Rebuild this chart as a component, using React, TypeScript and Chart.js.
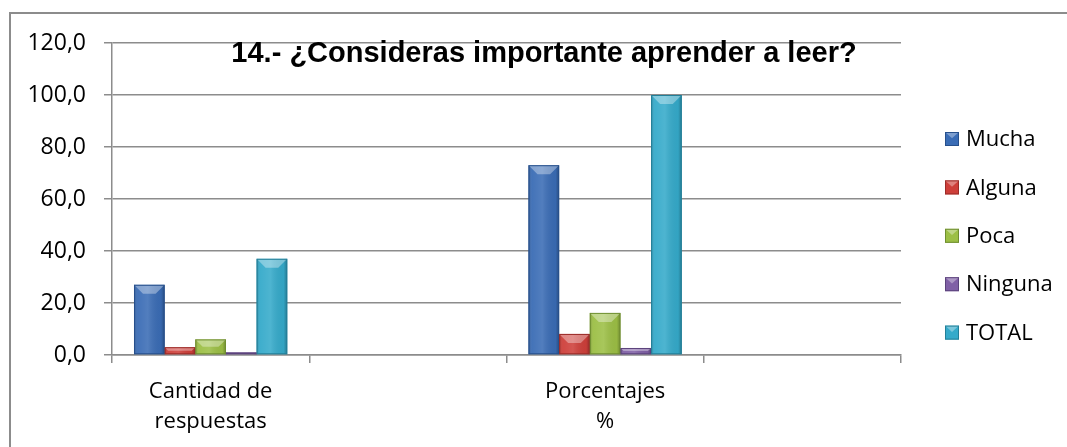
import React, { useEffect, useRef } from "react";
import { Chart, registerables } from "chart.js";

Chart.register(...registerables);

const titleText = "14.- ¿Consideras importante aprender a leer?";
const categories: (string | string[])[] = [["Cantidad de", "respuestas"], "", ["Porcentajes", "%"], ""];
const seriesNames = ["Mucha", "Alguna", "Poca", "Ninguna", "TOTAL"];
const mucha = [27, null, 73.0, null];
const alguna = [3, null, 8.1, null];
const poca = [6, null, 16.2, null];
const ninguna = [1, null, 2.7, null];
const total = [37, null, 100.0, null];
const yTicks = [0, 20, 40, 60, 80, 100, 120];

const seriesValues = [mucha, alguna, poca, ninguna, total];
const fills = ["#3A6CB5", "#CE3F3A", "#9CBF45", "#8060A6", "#35AACA"];
const borders = ["#27508C", "#9B2C29", "#6F8E30", "#5B437C", "#237F98"];

const FONT = "'Open Sans', 'DejaVu Sans', sans-serif";

const framePlugin = {
  id: "frame",
  beforeDraw(chart: any) {
    const ctx = chart.ctx;
    ctx.save();
    ctx.fillStyle = "#ffffff";
    ctx.fillRect(0, 0, chart.width, chart.height);
    ctx.fillStyle = "#8c8c8c";
    ctx.fillRect(9, 12, chart.width - 9, 2);
    ctx.fillRect(9, 12, 2, chart.height - 12);
    ctx.restore();
  },
};

const bevelPlugin = {
  id: "bevel",
  afterDatasetsDraw(chart: any) {
    const ctx = chart.ctx;
    ctx.save();
    chart.data.datasets.forEach((ds: any, i: number) => {
      const meta = chart.getDatasetMeta(i);
      meta.data.forEach((el: any) => {
        if (!Number.isFinite(el.y) || !Number.isFinite(el.base)) return;
        const left = el.x - el.width / 2;
        const right = el.x + el.width / 2;
        const top = Math.min(el.y, el.base);
        const bottom = Math.max(el.y, el.base);
        const h = bottom - top;
        if (h <= 0) return;
        const g = ctx.createLinearGradient(left, 0, right, 0);
        g.addColorStop(0, "rgba(0,0,0,0.22)");
        g.addColorStop(0.12, "rgba(255,255,255,0.05)");
        g.addColorStop(0.45, "rgba(255,255,255,0.12)");
        g.addColorStop(0.88, "rgba(0,0,0,0.04)");
        g.addColorStop(1, "rgba(0,0,0,0.28)");
        ctx.fillStyle = g;
        ctx.fillRect(left, top, right - left, h);
        const b = Math.min(9, h / 2, el.width / 2);
        ctx.beginPath();
        ctx.moveTo(left, top);
        ctx.lineTo(right, top);
        ctx.lineTo(right - b, top + b);
        ctx.lineTo(left + b, top + b);
        ctx.closePath();
        ctx.fillStyle = "rgba(255,255,255,0.35)";
        ctx.fill();
        ctx.strokeStyle = borders[i];
        ctx.lineWidth = 1;
        ctx.strokeRect(left + 0.5, top + 0.5, right - left - 1, h - 1);
      });
    });
    ctx.restore();
  },
};

const titlePlugin = {
  id: "overlayTitle",
  afterDraw(chart: any) {
    const ctx = chart.ctx;
    ctx.save();
    ctx.font = "bold 29px 'Liberation Sans', Arial, sans-serif";
    ctx.fillStyle = "#000000";
    ctx.textAlign = "center";
    ctx.textBaseline = "alphabetic";
    ctx.fillText(titleText, 544, 62);
    ctx.restore();
  },
};

const legendPlugin = {
  id: "sideLegend",
  afterDraw(chart: any) {
    const ctx = chart.ctx;
    ctx.save();
    ctx.font = `22px ${FONT}`;
    ctx.textAlign = "left";
    ctx.textBaseline = "middle";
    chart.data.datasets.forEach((ds: any, i: number) => {
      const cy = 139 + i * 48.4;
      const bx = 945;
      const size = 14;
      const top = cy - size / 2;
      ctx.fillStyle = ds.backgroundColor;
      ctx.fillRect(bx, top, size, size);
      ctx.beginPath();
      ctx.moveTo(bx, top);
      ctx.lineTo(bx + size, top);
      ctx.lineTo(bx + size / 2, top + size * 0.45);
      ctx.closePath();
      ctx.fillStyle = "rgba(255,255,255,0.35)";
      ctx.fill();
      ctx.strokeStyle = borders[i];
      ctx.lineWidth = 1;
      ctx.strokeRect(bx + 0.5, top + 0.5, size - 1, size - 1);
      ctx.fillStyle = "#000000";
      ctx.fillText(ds.label, 966, cy + 1);
    });
    ctx.restore();
  },
};

export default function App() {
  const ref = useRef<HTMLCanvasElement | null>(null);
  useEffect(() => {
    document.body.style.margin = "0";
    document.body.style.overflow = "hidden";
    document.documentElement.style.overflow = "hidden";
    if (!ref.current) return;
    const chart = new Chart(ref.current, {
      type: "bar",
      data: {
        labels: categories,
        datasets: seriesNames.map((name, i) => ({
          label: name,
          data: seriesValues[i],
          backgroundColor: fills[i],
          borderWidth: 0,
          categoryPercentage: 0.777,
          barPercentage: 1,
        })),
      },
      options: {
        responsive: false,
        animation: false,
        layout: { autoPadding: false, padding: { top: 43, right: 166, bottom: 0, left: 0 } },
        plugins: {
          legend: { display: false },
          title: { display: false },
          tooltip: { enabled: false },
        },
        scales: {
          x: {
            offset: true,
            grid: {
              offset: true,
              drawOnChartArea: false,
              drawTicks: true,
              tickLength: 8,
              color: "#8c8c8c",
              lineWidth: 1.5,
            },
            border: { display: true, color: "#8c8c8c", width: 1.5 },
            ticks: {
              color: "#000000",
              font: { family: FONT, size: 22, lineHeight: 1.36 },
              padding: 14,
              maxRotation: 0,
              autoSkip: false,
            },
            afterFit(scale: any) {
              scale.height = 92;
            },
          },
          y: {
            min: 0,
            max: 120,
            afterBuildTicks(scale: any) {
              scale.ticks = yTicks.map((v) => ({ value: v }));
            },
            grid: {
              color: "#8c8c8c",
              lineWidth: 1.5,
              tickLength: 8,
              drawTicks: true,
            },
            border: { display: true, color: "#8c8c8c", width: 1.5 },
            ticks: {
              color: "#000000",
              font: { family: FONT, size: 23 },
              padding: 18,
              callback: (v: any) => Number(v).toFixed(1).replace(".", ","),
            },
            afterFit(scale: any) {
              scale.width = 112;
            },
          },
        },
      },
      plugins: [framePlugin, bevelPlugin, titlePlugin, legendPlugin],
    });
    return () => chart.destroy();
  }, []);
  return (
    <div style={{ position: "fixed", left: 0, top: 0, width: 1067, height: 447, overflow: "hidden", background: "#fff" }}>
      <canvas ref={ref} width={1067} height={447} style={{ width: 1067, height: 447, display: "block" }} />
    </div>
  );
}
